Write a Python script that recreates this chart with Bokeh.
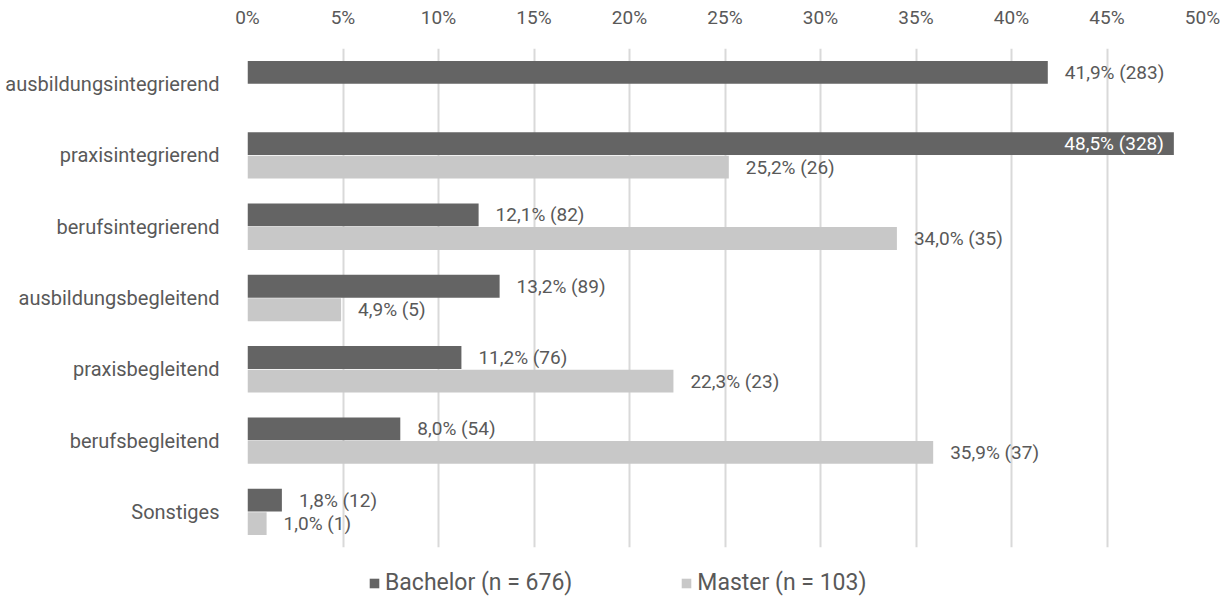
from bokeh.plotting import figure
from bokeh.layouts import column
from bokeh.models import ColumnDataSource, FactorRange, FixedTicker, Legend, LegendItem, Range1d
from bokeh.transform import dodge
from bokeh.core.properties import value
from bokeh.embed import file_html
from bokeh.resources import INLINE

categories = ["ausbildungsintegrierend", "praxisintegrierend", "berufsintegrierend",
              "ausbildungsbegleitend", "praxisbegleitend", "berufsbegleitend", "Sonstiges"]
bachelor_pct = [41.9, 48.5, 12.1, 13.2, 11.2, 8.0, 1.8]
bachelor_n = [283, 328, 82, 89, 76, 54, 12]
master_pct = [0.0, 25.2, 34.0, 4.9, 22.3, 35.9, 1.0]
master_n = [0, 26, 35, 5, 23, 37, 1]
x_ticks = [0, 5, 10, 15, 20, 25, 30, 35, 40, 45, 50]
series_names = ["Bachelor (n = 676)", "Master (n = 103)"]

FONT = "Roboto"
TXT = "#595959"
DARK = "#646464"
LIGHT = "#c8c8c8"
FS = "19px"

def fmt(v, n):
    return f"{v:.1f}".replace(".", ",") + f"% ({n})"

p = figure(width=1228, height=550, output_backend="svg", toolbar_location=None,
           y_range=FactorRange(*reversed(categories)), x_range=Range1d(0, 50),
           x_axis_location="above", min_border_left=247, min_border_right=26,
           min_border_top=48, min_border_bottom=3)
p.outline_line_color = None

src = ColumnDataSource(dict(cat=categories, b=bachelor_pct, m=master_pct))
rb = p.hbar(y=dodge("cat", 0.165, range=p.y_range), left=0, right="b", height=0.32,
            source=src, fill_color=DARK, line_color=None)
rm = p.hbar(y=dodge("cat", -0.165, range=p.y_range), left=0, right="m", height=0.32,
            source=src, fill_color=LIGHT, line_color=None)

# labels
b_cat, b_x, b_t = [], [], []
in_cat, in_x, in_t = [], [], []
for c, v, n in zip(categories, bachelor_pct, bachelor_n):
    if v > 45:
        in_cat.append(c); in_x.append(v); in_t.append(fmt(v, n))
    else:
        b_cat.append(c); b_x.append(v); b_t.append(fmt(v, n))
m_cat, m_x, m_t = [], [], []
for c, v, n in zip(categories, master_pct, master_n):
    if n > 0:
        m_cat.append(c); m_x.append(v); m_t.append(fmt(v, n))

src_b_out = ColumnDataSource(dict(cat=b_cat, x=b_x, t=b_t))
src_m_out = ColumnDataSource(dict(cat=m_cat, x=m_x, t=m_t))
src_in = ColumnDataSource(dict(cat=in_cat, x=in_x, t=in_t))

for s, off in ((src_b_out, 0.165), (src_m_out, -0.165)):
    p.text(x="x", y=dodge("cat", off, range=p.y_range), text="t", source=s,
           x_offset=17, text_align="left", text_baseline="middle",
           text_font=value(FONT), text_font_size=FS, text_color=TXT)
p.text(x="x", y=dodge("cat", 0.165, range=p.y_range), text="t", source=src_in,
       x_offset=-10, text_align="right", text_baseline="middle",
       text_font=value(FONT), text_font_size=FS, text_color="white")

# axes
xa = p.xaxis[0]
xa.ticker = FixedTicker(ticks=x_ticks)
xa.major_label_overrides = {t: f"{t}%" for t in x_ticks}
xa.axis_line_color = None
xa.major_tick_line_color = None
xa.minor_tick_line_color = None
xa.major_label_text_font = FONT
xa.major_label_text_font_size = FS
xa.major_label_text_color = TXT
xa.major_label_standoff = 14

ya = p.yaxis[0]
ya.axis_line_color = None
ya.major_tick_line_color = None
ya.minor_tick_line_color = None
ya.major_label_text_font = FONT
ya.major_label_text_font_size = "20px"
ya.major_label_text_color = TXT
ya.major_label_standoff = 22

p.xgrid.ticker = FixedTicker(ticks=x_ticks)
p.xgrid.grid_line_color = "#d9d9d9"
p.xgrid.grid_line_width = 2
p.ygrid.grid_line_color = None

# legend strip
leg = figure(width=1228, height=46, output_backend="svg", toolbar_location=None,
             x_range=Range1d(0, 1), y_range=Range1d(0, 1),
             min_border=0, min_border_left=0, min_border_right=0,
             min_border_top=0, min_border_bottom=0)
leg.axis.visible = False
leg.grid.visible = False
leg.outline_line_color = None
lb = leg.hbar(y=[-10], left=[-10], right=[-9], height=1, fill_color=DARK, line_color=None)
lm = leg.hbar(y=[-10], left=[-10], right=[-9], height=1, fill_color=LIGHT, line_color=None)
legend = Legend(items=[LegendItem(label=series_names[0], renderers=[lb]),
                       LegendItem(label=series_names[1], renderers=[lm])],
                orientation="horizontal", location=(121, 0),
                label_text_font=FONT, label_text_font_size="23px", label_text_color=TXT,
                glyph_width=12, glyph_height=12, label_standoff=5, spacing=108,
                background_fill_alpha=0, border_line_color=None, padding=0, margin=0)
leg.add_layout(legend, "center")

layout = column(p, leg, spacing=0)
open("out.html", "w").write(file_html(layout, INLINE))
